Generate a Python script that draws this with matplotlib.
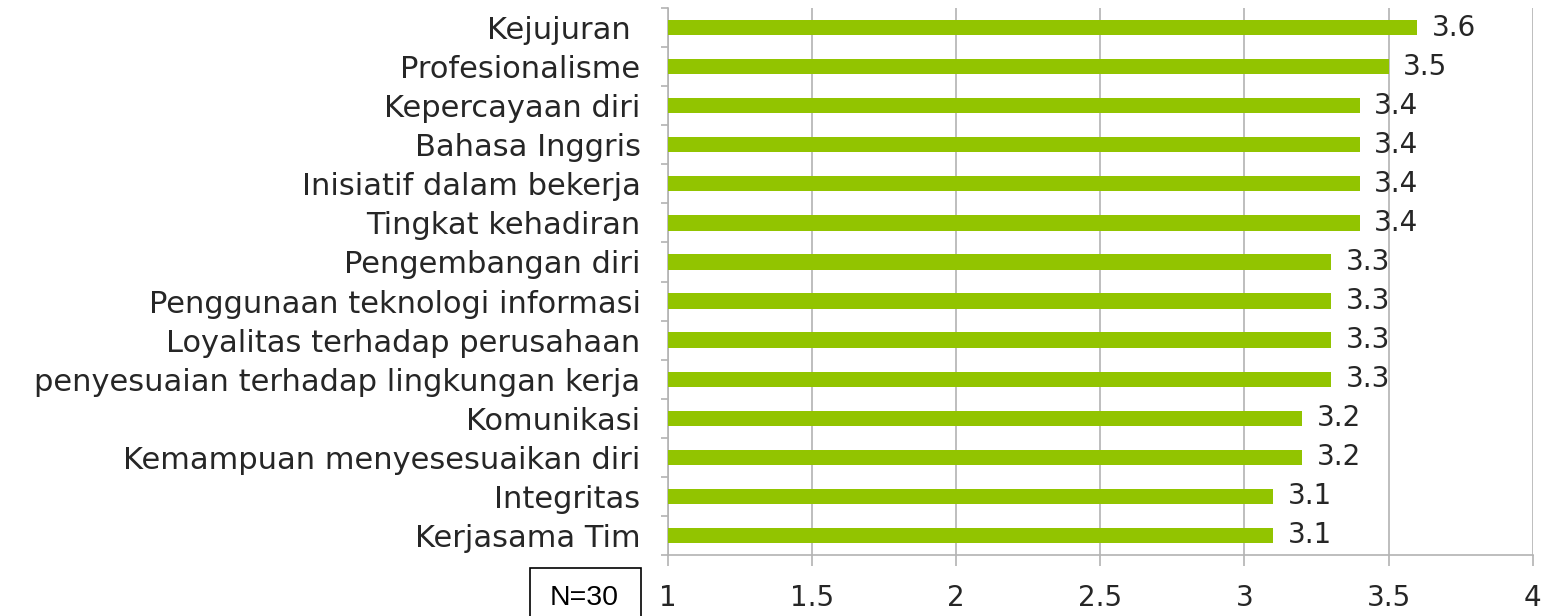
import matplotlib
matplotlib.use("Agg")
import matplotlib.pyplot as plt
from matplotlib.patches import Rectangle

categories = [
    "Kejujuran ", "Profesionalisme", "Kepercayaan diri", "Bahasa Inggris",
    "Inisiatif dalam bekerja", "Tingkat kehadiran", "Pengembangan diri",
    "Penggunaan teknologi informasi", "Loyalitas terhadap perusahaan",
    "penyesuaian terhadap lingkungan kerja", "Komunikasi",
    "Kemampuan menyesesuaikan diri", "Integritas", "Kerjasama Tim",
]
values = [3.6, 3.5, 3.4, 3.4, 3.4, 3.4, 3.3, 3.3, 3.3, 3.3, 3.2, 3.2, 3.1, 3.1]
x_ticks = [1, 1.5, 2, 2.5, 3, 3.5, 4]
x_ticklabels = ["1", "1.5", "2", "2.5", "3", "3.5", "4"]
note = "N=30"

FONT = ["DejaVu Sans"]
TXT = "#262626"
GRID = "#b3b3b3"
BAR = "#92C400"

fig = plt.figure(figsize=(15.45, 6.16), dpi=100)
ax = fig.add_axes([667.7 / 1545, 1 - 555 / 616, (1532.7 - 667.7) / 1545, (555 - 8) / 616])

n = len(categories)
ypos = list(range(n))
ax.barh(ypos, [v - 1 for v in values], left=1, height=0.39, color=BAR, zorder=3)
ax.set_ylim(n - 0.5, -0.5)
ax.set_xlim(1, 4)

for y, v in zip(ypos, values):
    ax.annotate(f"{v:.1f}", xy=(v, y), xytext=(10.5, 0), textcoords="offset points",
                ha="left", va="center", fontsize=20, color=TXT, family=FONT,
                annotation_clip=False)

# y tick labels at category centres, tick marks at boundaries
ax.set_yticks(ypos)
ax.set_yticklabels(categories, fontsize=22, color=TXT, family=FONT)
ax.tick_params(axis="y", which="major", length=0, pad=19.5)
ax.set_yticks([i - 0.5 for i in range(n + 1)], minor=True)
ax.tick_params(axis="y", which="minor", length=5, color=GRID, width=1.2)

ax.set_xticks(x_ticks)
ax.set_xticklabels(x_ticklabels, fontsize=20, color=TXT, family=FONT)
ax.tick_params(axis="x", length=8, color=GRID, width=1.2, pad=13)

ax.grid(axis="x", color=GRID, linewidth=1.2, zorder=0)
for s in ["top", "right"]:
    ax.spines[s].set_visible(False)
for s in ["left", "bottom"]:
    ax.spines[s].set_color(GRID)
    ax.spines[s].set_linewidth(1.2)

# N=30 box
fig.patches.append(Rectangle((530 / 1545, -0.01), (641 - 530) / 1545, (616 - 568) / 616 + 0.01,
                             transform=fig.transFigure, fill=False,
                             edgecolor="black", linewidth=1.2))
fig.text(584 / 1545, 1 - 598 / 616, note, ha="center", va="center", fontsize=20.5,
         color="black", family=["Liberation Sans", "DejaVu Sans"])

fig.savefig("out.png", dpi=100, facecolor="white")
